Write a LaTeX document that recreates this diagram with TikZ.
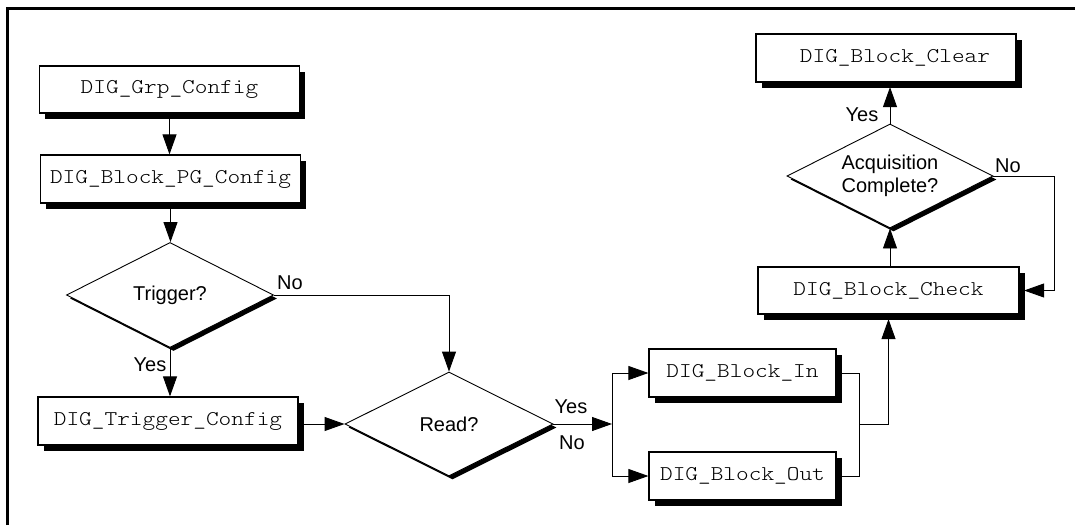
\documentclass[tikz,border=0pt]{standalone}
\usepackage{fontspec}
\setmainfont{Liberation Sans}
\newfontfamily\boxfam{lmmonolt10-regular.otf}[FakeStretch=1.15]
\usetikzlibrary{shapes.geometric,arrows.meta,shadows}
\newcommand{\boxfont}{\boxfam\fontsize{21}{25}\selectfont}
\newcommand{\lblfont}{\fontsize{20}{23}\selectfont}
\begin{document}
\begin{tikzpicture}[x=1pt,y=-1pt,
  box/.style={draw, line width=1.2pt, fill=white, minimum height=47pt, inner sep=0pt,
    font=\boxfont, drop shadow={shadow xshift=5.5pt, shadow yshift=-5.5pt, fill=black, opacity=1}},
  dec/.style={diamond, aspect=2, draw, line width=0.9pt, fill=white, inner sep=0pt,
    minimum width=207pt, minimum height=105pt, font=\lblfont, align=center,
    drop shadow={shadow xshift=3.5pt, shadow yshift=-3.5pt, fill=black, opacity=1}},
  arr/.style={-{Triangle[length=20pt,width=14pt]}, line width=0.9pt},
  conn/.style={line width=0.9pt},
  lbl/.style={font=\lblfont, inner sep=0pt}]
\useasboundingbox (0,0) rectangle (1075,525);
\draw[line width=3pt] (7,525) -- (7,8) -- (1075,8);

% nodes
\node[box, minimum width=260pt] (grp) at (169.5,89.5) {DIG\_Grp\_Config};
\node[box, minimum width=260pt, minimum height=48pt] (pg) at (170.5,179) {DIG\_Block\_PG\_Config};
\node[dec] (trig) at (170,295) {Trigger?};
\node[box, minimum width=260pt, minimum height=48pt] (tcfg) at (168,421) {DIG\_Trigger\_Config};
\node[dec, minimum width=208pt, minimum height=104pt] (read) at (449,424) {Read?};
\node[box, minimum width=187pt, minimum height=48pt] (bin) at (742.5,373) {DIG\_Block\_In};
\node[box, minimum width=187pt, minimum height=48pt] (bout) at (742.5,476) {DIG\_Block\_Out};
\node[box, minimum width=261pt] (chk) at (888.5,290.5) {DIG\_Block\_Check};
\node[dec, minimum width=206pt, minimum height=104pt] (acq) at (890,176) {Acquisition\\Complete?};
\node[box, minimum width=260pt, minimum height=48pt] (clr) at (886,58) {\hspace*{18pt}DIG\_Block\_Clear};

% connectors
\draw[arr] (grp.south) -- (grp.south |- pg.north);
\draw[arr] (pg.south) -- (pg.south |- trig.north);
\draw[arr] (trig.south) -- (trig.south |- tcfg.north);
\draw[arr] (tcfg.east |- read.west) -- (read.west);
\draw[arr] (trig.east) -| (read.north);
\coordinate (split) at (612,424);
\draw[arr] (read.east) -- (split);
\draw[arr] (split) |- (bin.west);
\draw[arr] (split) |- (bout.west);
\coordinate (join) at (859,424);
\draw[conn] (bin.east) -| (join) |- (bout.east);
\coordinate (chksh) at ([yshift=-4.5pt]chk.south);
\draw[arr] (join) -| (chksh);
\draw[arr] (chk.north -| acq.south) -- (acq.south);
\coordinate (clrsh) at ([yshift=-4.5pt]clr.south);
\draw[arr] (acq.north) -- (acq.north |- clrsh);
\coordinate (noturn) at (1054,176);
\coordinate (chkesh) at ([xshift=4.5pt]chk.east);
\draw[arr] (acq.east) -- (noturn) |- (chkesh);

% labels
\node[lbl] (ltn) at (290,283) {No};
\node[lbl] (lty) at (150,365) {Yes};
\node[lbl] (lry) at (571,407) {Yes};
\node[lbl] (lrn) at (572,443) {No};
\node[lbl] (lay) at (862,115) {Yes};
\node[lbl] (lan) at (1008,166) {No};
\end{tikzpicture}
\end{document}
